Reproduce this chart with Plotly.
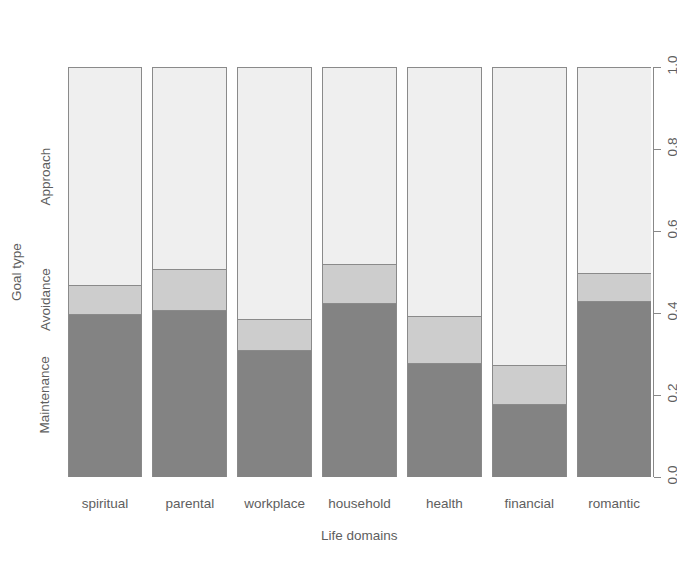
import plotly.graph_objects as go

domains = ["spiritual", "parental", "workplace", "household", "health", "financial", "romantic"]
maintenance = [0.397, 0.407, 0.309, 0.422, 0.277, 0.177, 0.427]
avoidance = [0.069, 0.098, 0.074, 0.097, 0.115, 0.096, 0.069]
approach = [0.534, 0.495, 0.617, 0.481, 0.608, 0.727, 0.504]

goal_types = ["Maintenance", "Avoidance", "Approach"]
fills = ["#838383", "#cdcdcd", "#efefef"]
text_color = "#5e5e5e"
fs = 13.5

fig = go.Figure()
for name, vals, col in zip(goal_types, [maintenance, avoidance, approach], fills):
    fig.add_trace(go.Bar(
        x=domains,
        y=vals,
        name=name,
        marker=dict(color=col, line=dict(color="#8a8a8a", width=1)),
        hoverinfo="x+y+name",
    ))

# goal-type labels on the left, at the middle of each segment of the first bar
base = 0
for name, vals in zip(goal_types, [maintenance, avoidance, approach]):
    fig.add_annotation(
        x=0, xref="paper", xshift=-23, xanchor="center",
        y=base + vals[0] / 2, yref="y", yanchor="middle",
        text=name, textangle=-90, showarrow=False,
        font=dict(size=fs, color=text_color),
    )
    base += vals[0]

fig.add_annotation(
    x=0, xref="paper", xshift=-52, xanchor="center",
    y=0.5, yref="paper", yanchor="middle",
    text="Goal type", textangle=-90, showarrow=False,
    font=dict(size=fs, color=text_color),
)
fig.add_annotation(
    x=583 / 2 / 585, xref="paper", xanchor="center",
    y=0, yref="paper", yshift=-58, yanchor="middle",
    text="Life domains", showarrow=False,
    font=dict(size=fs, color=text_color),
)

# page body adds 8px of margin, so the figure is sized to fit the 685x561 window
fig.update_layout(
    barmode="stack",
    bargap=0.13,
    width=677,
    height=553,
    showlegend=False,
    paper_bgcolor="white",
    plot_bgcolor="white",
    font=dict(family="Liberation Sans, Arial, sans-serif", size=fs, color=text_color),
    margin=dict(l=60, r=32, t=59, b=84),
    xaxis=dict(
        domain=[0, 583 / 585],
        range=[-0.435, 6.435],
        automargin=False,
        showgrid=False, zeroline=False, showline=False,
        ticks="outside", ticklen=14, tickcolor="rgba(0,0,0,0)",
        tickfont=dict(size=fs, color=text_color),
    ),
    yaxis=dict(
        range=[0, 1],
        side="right", anchor="free", position=1.0,
        automargin=False,
        tickvals=[0, 0.2, 0.4, 0.6, 0.8, 1.0],
        ticktext=["0.0", "0.2", "0.4", "0.6", "0.8", "1.0"],
        tickangle=-90,
        showgrid=False, zeroline=False,
        showline=True, linecolor="#888888", linewidth=1,
        ticks="outside", ticklen=7, tickcolor="#888888",
        tickfont=dict(size=fs, color=text_color),
    ),
)

fig.write_html("out.html")
